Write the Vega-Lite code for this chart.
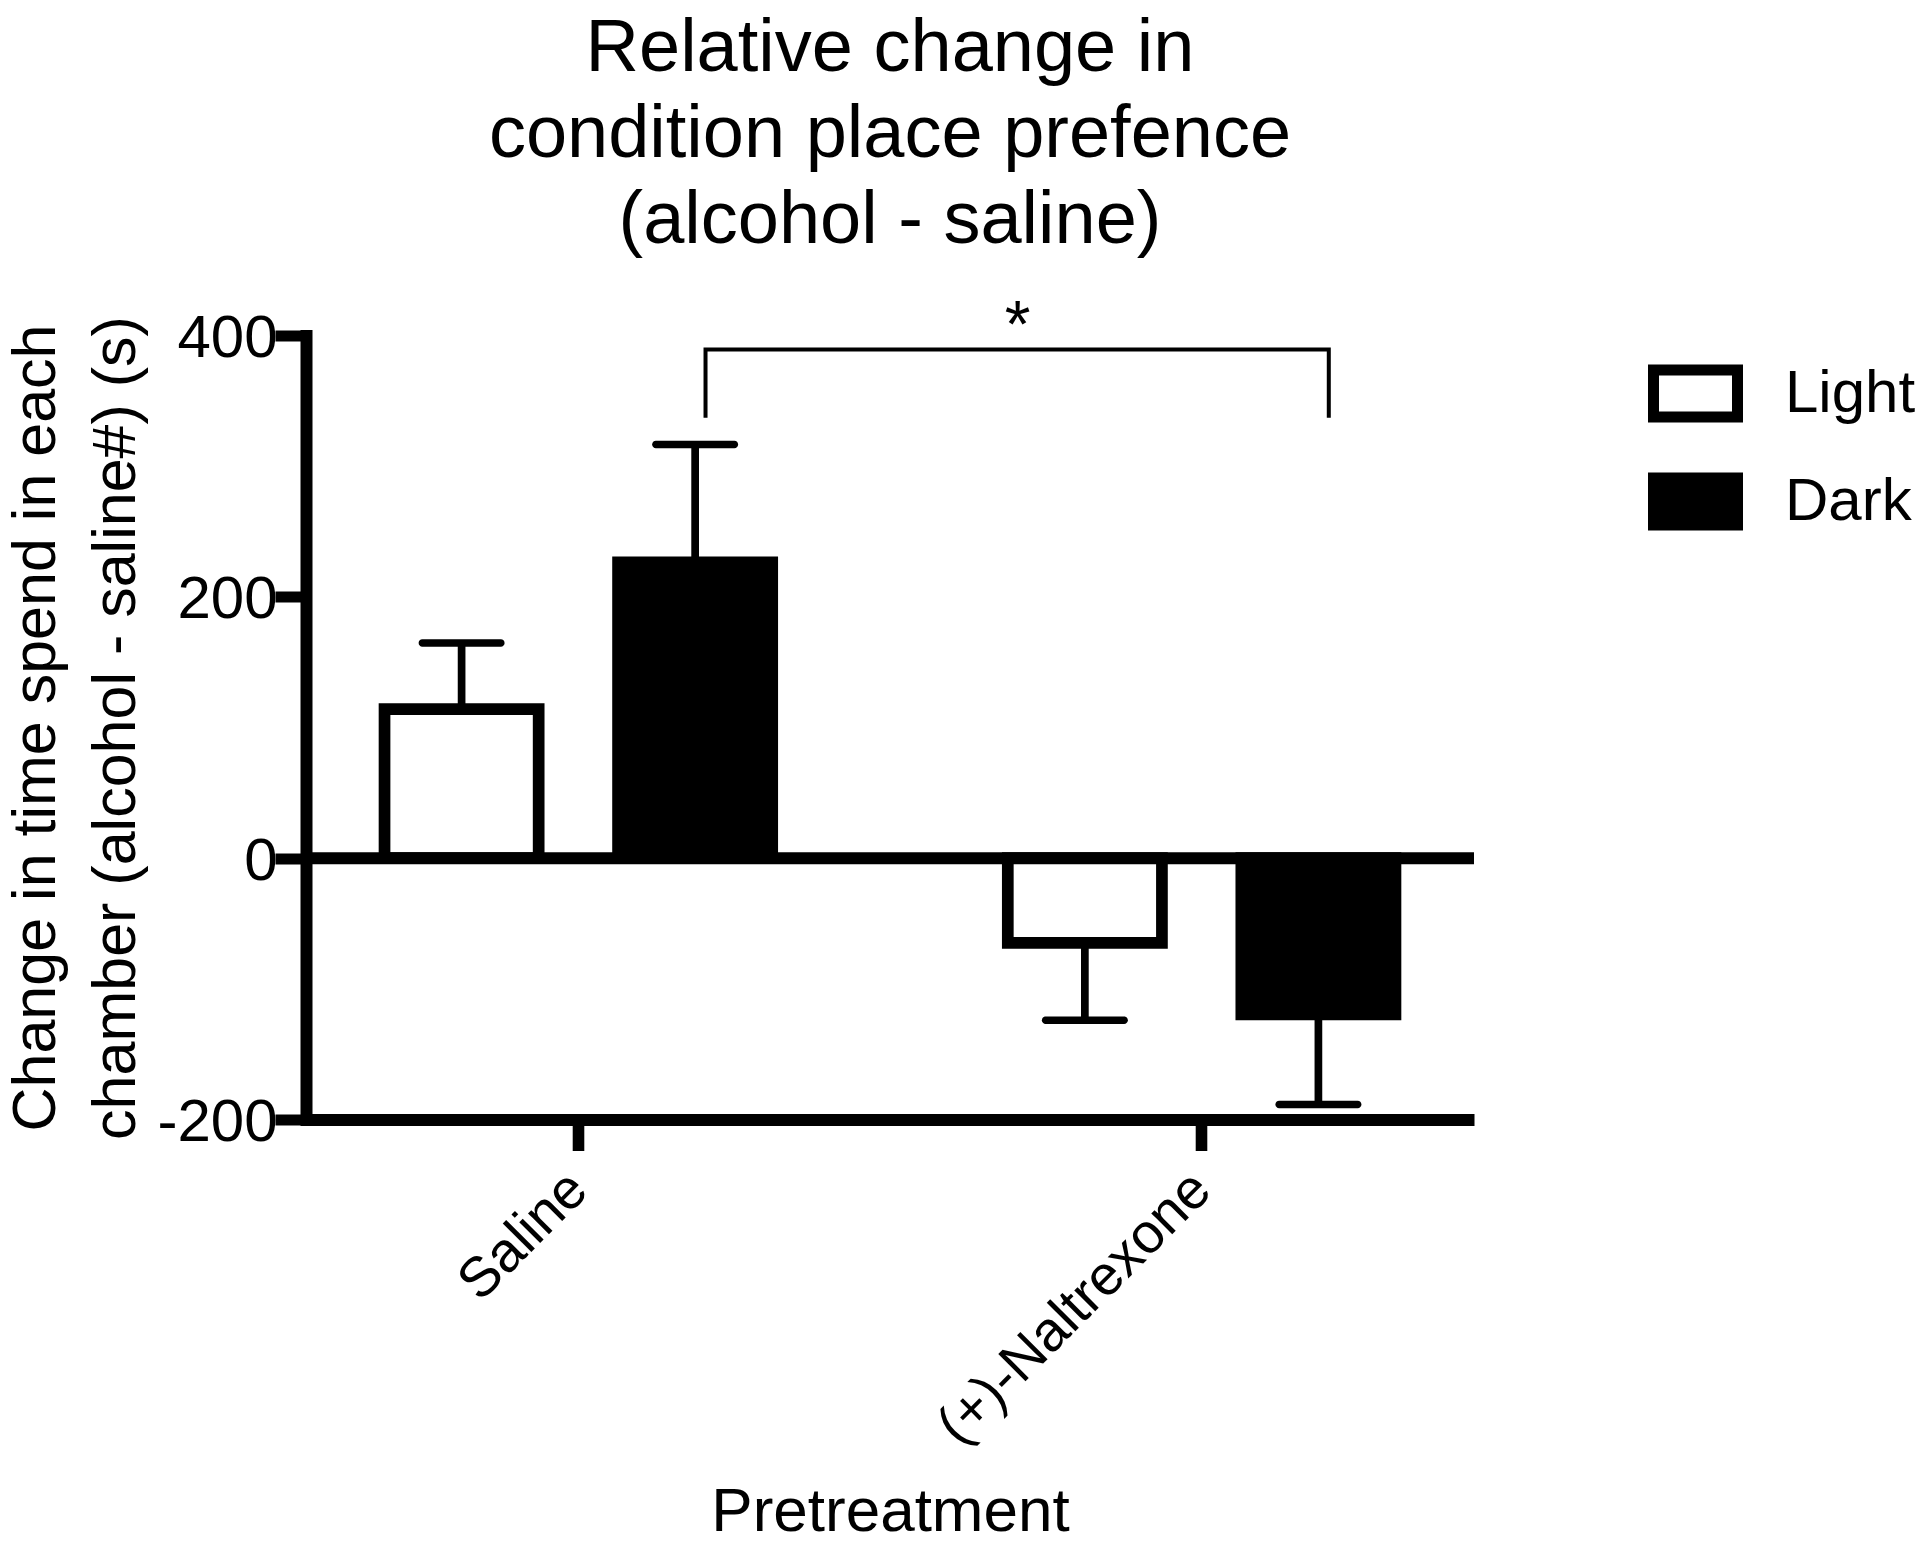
{
  "$schema": "https://vega.github.io/schema/vega-lite/v6.json",
  "width": 1168,
  "height": 784,
  "autosize": {"type": "none"},
  "padding": {"left": 306, "top": 335.5, "right": 446, "bottom": 430.5},
  "background": "white",
  "config": {
    "font": "Liberation Sans",
    "view": {"stroke": null},
    "axis": {"grid": false, "domainColor": "black", "tickColor": "black", "labelColor": "black", "titleColor": "black", "titleFontWeight": "normal", "labelFont": "Liberation Sans", "titleFont": "Liberation Sans"},
    "legend": {"labelFont": "Liberation Sans", "labelColor": "black"}
  },
  "title": {
    "text": ["Relative change in", "condition place prefence", "(alcohol - saline)"],
    "fontSize": 74, "lineHeight": 86, "fontWeight": "normal", "font": "Liberation Sans", "color": "black",
    "anchor": "middle", "frame": "group", "offset": 35
  },
  "datasets": {
    "bars": [
      {"group": "Saline", "chamber": "Light", "mean": 114.0, "errEnd": 164.7},
      {"group": "Saline", "chamber": "Dark", "mean": 226.3, "errEnd": 316.6},
      {"group": "(+)-Naltrexone", "chamber": "Light", "mean": -64.8, "errEnd": -124.1},
      {"group": "(+)-Naltrexone", "chamber": "Dark", "mean": -119.6, "errEnd": -188.5}
    ],
    "bracket": [
      {"group": "Saline", "y": 337, "ord": 1},
      {"group": "Saline", "y": 389.3, "ord": 2},
      {"group": "(+)-Naltrexone", "y": 389.3, "ord": 3},
      {"group": "(+)-Naltrexone", "y": 337, "ord": 4}
    ],
    "star": [
      {"group": "(+)-Naltrexone", "y": 391.2, "label": "*"}
    ],
    "baseline": [
      {"v": 0}
    ]
  },
  "layer": [
    {
      "data": {"name": "bars"},
      "mark": {"type": "bar", "stroke": "black", "strokeWidth": 11.7},
      "encoding": {
        "x": {
          "field": "group", "type": "nominal",
          "scale": {"domain": ["Saline", "(+)-Naltrexone"], "paddingInner": 0.378, "paddingOuter": 0.126},
          "title": "Pretreatment",
          "axis": {"domainWidth": 12, "domainCap": "butt", "tickSize": 31, "tickWidth": 11.6, "labelAngle": -45, "labelAlign": "right", "labelBaseline": "middle", "labelFontSize": 56, "labelLimit": 0, "labelPadding": 30, "labelOffset": 0, "titleFontSize": 62, "titleBaseline": "top", "titleY": 362}
        },
        "xOffset": {"field": "chamber", "type": "nominal", "scale": {"domain": ["Light", "Dark"], "paddingInner": 0.34, "paddingOuter": 0}},
        "y": {
          "field": "mean", "type": "quantitative",
          "scale": {"domain": [-200, 400], "nice": false},
          "title": ["Change in time spend in each", "chamber (alcohol - saline#) (s)"],
          "axis": {"values": [-200, 0, 200, 400], "labelExpr": "'' + datum.value", "domainWidth": 12, "domainCap": "square", "tickSize": 31, "tickWidth": 11, "labelFontSize": 60, "labelPadding": -2, "labelOffset": 3, "titleFontSize": 61, "titleLineHeight": 80, "titlePadding": 9}
        },
        "fill": {
          "field": "chamber", "type": "nominal",
          "scale": {"domain": ["Light", "Dark"], "range": ["white", "black"]},
          "legend": {"orient": "none", "legendX": 1342, "legendY": 10.5, "title": null, "symbolType": "M-1,-0.56H1V0.56H-1Z", "symbolSize": 7056, "symbolStrokeColor": "black", "symbolStrokeWidth": 11, "labelFontSize": 60, "labelOffset": 42, "rowPadding": 14}
        }
      }
    },
    {
      "data": {"name": "bars"},
      "mark": {"type": "rule", "strokeWidth": 7.7, "color": "black"},
      "encoding": {
        "x": {"field": "group", "type": "nominal"},
        "xOffset": {"field": "chamber", "type": "nominal"},
        "y": {"field": "mean", "type": "quantitative"},
        "y2": {"field": "errEnd"}
      }
    },
    {
      "data": {"name": "bars"},
      "mark": {"type": "tick", "size": 86, "thickness": 7.5, "cornerRadius": 3.7, "color": "black", "opacity": 1},
      "encoding": {
        "x": {"field": "group", "type": "nominal"},
        "xOffset": {"field": "chamber", "type": "nominal"},
        "y": {"field": "errEnd", "type": "quantitative"}
      }
    },
    {
      "data": {"name": "bracket"},
      "mark": {"type": "line", "strokeWidth": 4, "color": "black", "strokeCap": "butt", "strokeJoin": "miter"},
      "encoding": {
        "x": {"field": "group", "type": "nominal", "bandPosition": 0.828},
        "y": {"field": "y", "type": "quantitative"},
        "order": {"field": "ord", "type": "quantitative"}
      }
    },
    {
      "data": {"name": "star"},
      "mark": {"type": "text", "fontSize": 66, "baseline": "alphabetic", "align": "center", "color": "black", "font": "Liberation Sans"},
      "encoding": {
        "x": {"field": "group", "type": "nominal", "bandPosition": 0.025},
        "y": {"field": "y", "type": "quantitative"},
        "text": {"field": "label"}
      }
    },
    {
      "data": {"name": "baseline"},
      "mark": {"type": "rule", "strokeWidth": 12, "color": "black", "strokeCap": "butt"},
      "encoding": {
        "y": {"field": "v", "type": "quantitative"}
      }
    }
  ]
}
